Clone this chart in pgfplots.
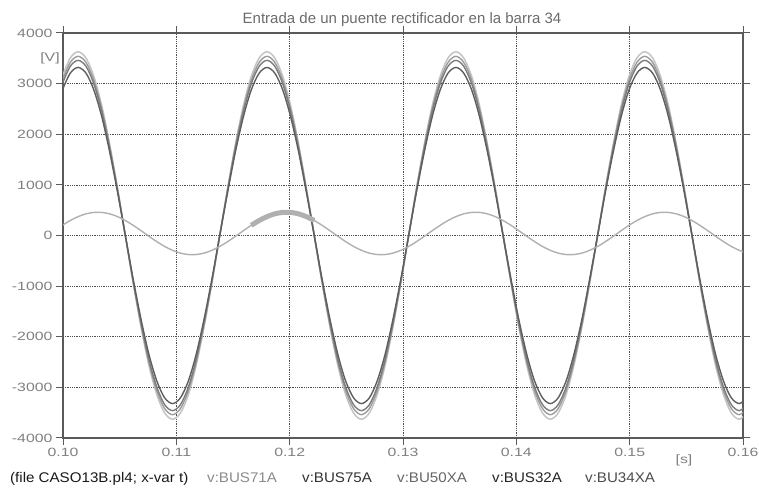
\documentclass[border=0pt]{standalone}
\usepackage{pgfplots}
\pgfplotsset{compat=1.18}
\usepackage{pgfplotstable}
\usepackage{fontspec}
\setmainfont{Liberation Sans}
\newfontfamily\tickfont{Liberation Sans}[FakeStretch=1.32]
\newfontfamily\legfont{Liberation Sans}[FakeStretch=1.08]

\definecolor{frame}{HTML}{5A5A5A}
\definecolor{gridc}{HTML}{505050}
\definecolor{labgray}{HTML}{808080}
\definecolor{titlegray}{HTML}{6B6B6B}
\definecolor{cA}{HTML}{C4C4C4}
\definecolor{cB}{HTML}{9C9C9C}
\definecolor{cC}{HTML}{7C7C7C}
\definecolor{cD}{HTML}{5E5E5E}
\definecolor{cS}{HTML}{B0B0B0}

% t [s], node voltages [V]
\pgfplotstableread{
t       a      b      c      d      s
0.09994  3144   3066   2996   2875   201
0.10064  3506   3419   3342   3207   296
0.10133  3630   3540   3460   3320   373
0.10203  3506   3419   3342   3207   428
0.10272  3144   3066   2996   2875   456
0.10342  2567   2503   2447   2348   456
0.10411  1815   1770   1730   1660   428
0.10481   940    916    896    859   373
0.10550     0      0      0      0   296
0.10619  -940   -916   -896   -859   201
0.10689 -1815  -1770  -1730  -1660    95
0.10758 -2567  -2503  -2447  -2348   -15
0.10828 -3144  -3066  -2996  -2875  -121
0.10897 -3506  -3419  -3342  -3207  -216
0.10967 -3630  -3540  -3460  -3320  -293
0.11036 -3506  -3419  -3342  -3207  -348
0.11106 -3144  -3066  -2996  -2875  -376
0.11175 -2567  -2503  -2447  -2348  -376
0.11244 -1815  -1770  -1730  -1660  -348
0.11314  -940   -916   -896   -859  -293
0.11383     0      0      0      0  -216
0.11453   940    916    896    859  -121
0.11522  1815   1770   1730   1660   -15
0.11592  2567   2503   2447   2348    95
0.11661  3144   3066   2996   2875   201
0.11731  3506   3419   3342   3207   296
0.11800  3630   3540   3460   3320   373
0.11869  3506   3419   3342   3207   428
0.11939  3144   3066   2996   2875   456
0.12008  2567   2503   2447   2348   456
0.12078  1815   1770   1730   1660   428
0.12147   940    916    896    859   373
0.12217     0      0      0      0   296
0.12286  -940   -916   -896   -859   201
0.12356 -1815  -1770  -1730  -1660    95
0.12425 -2567  -2503  -2447  -2348   -15
0.12494 -3144  -3066  -2996  -2875  -121
0.12564 -3506  -3419  -3342  -3207  -216
0.12633 -3630  -3540  -3460  -3320  -293
0.12703 -3506  -3419  -3342  -3207  -348
0.12772 -3144  -3066  -2996  -2875  -376
0.12842 -2567  -2503  -2447  -2348  -376
0.12911 -1815  -1770  -1730  -1660  -348
0.12981  -940   -916   -896   -859  -293
0.13050     0      0      0      0  -216
0.13119   940    916    896    859  -121
0.13189  1815   1770   1730   1660   -15
0.13258  2567   2503   2447   2348    95
0.13328  3144   3066   2996   2875   201
0.13397  3506   3419   3342   3207   296
0.13467  3630   3540   3460   3320   373
0.13536  3506   3419   3342   3207   428
0.13606  3144   3066   2996   2875   456
0.13675  2567   2503   2447   2348   456
0.13744  1815   1770   1730   1660   428
0.13814   940    916    896    859   373
0.13883     0      0      0      0   296
0.13953  -940   -916   -896   -859   201
0.14022 -1815  -1770  -1730  -1660    95
0.14092 -2567  -2503  -2447  -2348   -15
0.14161 -3144  -3066  -2996  -2875  -121
0.14231 -3506  -3419  -3342  -3207  -216
0.14300 -3630  -3540  -3460  -3320  -293
0.14369 -3506  -3419  -3342  -3207  -348
0.14439 -3144  -3066  -2996  -2875  -376
0.14508 -2567  -2503  -2447  -2348  -376
0.14578 -1815  -1770  -1730  -1660  -348
0.14647  -940   -916   -896   -859  -293
0.14717     0      0      0      0  -216
0.14786   940    916    896    859  -121
0.14856  1815   1770   1730   1660   -15
0.14925  2567   2503   2447   2348    95
0.14994  3144   3066   2996   2875   201
0.15064  3506   3419   3342   3207   296
0.15133  3630   3540   3460   3320   373
0.15203  3506   3419   3342   3207   428
0.15272  3144   3066   2996   2875   456
0.15342  2567   2503   2447   2348   456
0.15411  1815   1770   1730   1660   428
0.15481   940    916    896    859   373
0.15550     0      0      0      0   296
0.15619  -940   -916   -896   -859   201
0.15689 -1815  -1770  -1730  -1660    95
0.15758 -2567  -2503  -2447  -2348   -15
0.15828 -3144  -3066  -2996  -2875  -121
0.15897 -3506  -3419  -3342  -3207  -216
0.15967 -3630  -3540  -3460  -3320  -293
0.16036 -3506  -3419  -3342  -3207  -348
}\voltages

\begin{document}
\begin{tikzpicture}
\path[use as bounding box] (0pt,0pt) rectangle (759pt,489pt);
\begin{axis}[
  at={(63pt,51pt)}, anchor=south west,
  scale only axis, width=680pt, height=405pt,
  xmin=0.10, xmax=0.16, ymin=-4000, ymax=4000,
  xtick={0.10,0.11,0.12,0.13,0.14,0.15,0.16},
  ytick={-4000,-3000,-2000,-1000,0,1000,2000,3000,4000},
  scaled ticks=false,
  xticklabel style={/pgf/number format/.cd, fixed, fixed zerofill, precision=2},
  /pgf/number format/1000 sep={},
  /pgf/number format/assume math mode=true,
  ticklabel style={font=\tickfont\fontsize{12}{14}\selectfont, text=labgray},
  tick align=outside, major tick length=7pt,
  tick style={draw=frame, line width=1pt},
  axis line style={draw=frame, line width=1.4pt},
  grid=major,
  major grid style={draw=gridc, line width=0.7pt, dash pattern=on 0.9pt off 0.9pt},
  every axis plot/.append style={smooth, no markers},
]
\addplot[cA, line width=1.5pt] table[x=t, y=a] {\voltages};
\addplot[cB, line width=1.4pt] table[x=t, y=b] {\voltages};
\addplot[cC, line width=1.4pt] table[x=t, y=c] {\voltages};
\addplot[cD, line width=1.4pt] table[x=t, y=d] {\voltages};
\addplot[cS, line width=1.4pt] table[x=t, y=s] {\voltages};
% high-frequency ripple on the small-signal node around 0.12 s
\addplot[cS, line width=5pt, restrict x to domain=0.1166:0.1222] table[x=t, y=s] {\voltages};
\end{axis}

\node[font=\fontsize{15}{17}\selectfont, text=titlegray, anchor=base] at (402pt,465pt)
  {Entrada de un puente rectificador en la barra 34};
\node[font=\tickfont\fontsize{12}{14}\selectfont, text=labgray] at (50pt,431pt) {[V]};
\node[font=\tickfont\fontsize{12}{14}\selectfont, text=labgray] at (684pt,29pt) {[s]};

\begin{scope}[every node/.style={anchor=base west, inner sep=0pt, font=\legfont\fontsize{14}{16}\selectfont}]
\node[text=black!90] at (10pt,6pt) {(file CASO13B.pl4; x-var t)};
\node[text=black!45] at (207pt,6pt) {v:BUS71A};
\node[text=black!80] at (302pt,6pt) {v:BUS75A};
\node[text=black!60] at (397pt,6pt) {v:BU50XA};
\node[text=black!85] at (492pt,6pt) {v:BUS32A};
\node[text=black!70] at (585pt,6pt) {v:BU34XA};
\end{scope}
\end{tikzpicture}
\end{document}
